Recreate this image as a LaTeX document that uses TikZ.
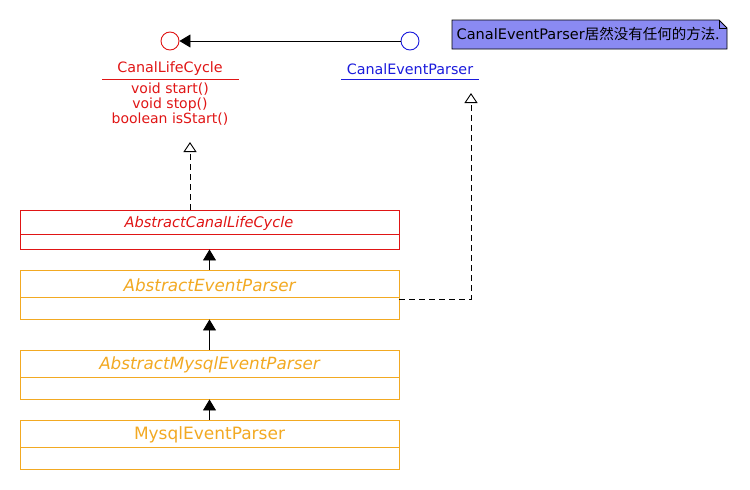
\documentclass[tikz,border=0pt]{standalone}
\usepackage{fontspec}
\setmainfont{DejaVu Sans}
\newfontfamily\cjk{Noto Sans CJK SC}
\usetikzlibrary{arrows.meta}
\definecolor{cred}{HTML}{E01515}
\definecolor{cblue}{HTML}{1A1ADC}
\definecolor{corange}{HTML}{F2A922}
\definecolor{cnote}{HTML}{8A8AF2}
\tikzset{
  clsbox/.style={draw, line width=0.9pt, minimum width=379pt, inner sep=0pt},
  lbl/.style={inner sep=0pt, anchor=center},
  inh/.style={-{Triangle[width=13pt,length=11pt]}, line width=0.9pt},
  real/.style={-{Triangle[open,width=13pt,length=10pt]}, line width=0.9pt, dash pattern=on 6pt off 4pt},
  iface/.style={circle, draw, line width=0.9pt, minimum size=18pt, inner sep=0pt}
}
\begin{document}
\begin{tikzpicture}[x=1pt,y=-1pt]
\useasboundingbox (0,0) rectangle (750,490);
% interfaces
\node[iface, draw=cred] (clc) at (170,41) {};
\node[iface, draw=cblue] (cep) at (410,41) {};
\draw[inh] (cep) -- (clc);
\node[lbl, text=cred, font=\fontsize{14.3}{15}\selectfont] (clcname) at (170,69) {CanalLifeCycle};
\draw[cred, line width=0.9pt] (102,79) -- (239,79);
\node[lbl, text=cred, font=\fontsize{14}{15}\selectfont, align=center] (clcm) at (170,104) {void start()\\ void stop()\\ boolean isStart()};
\node[lbl, text=cblue, font=\fontsize{14.3}{15}\selectfont] (cepname) at (410,69) {CanalEventParser};
\draw[cblue, line width=0.9pt] (341,79) -- (479,79);
\coordinate (clctip) at (190,142);
\coordinate (ceptip) at (471,93);
% note
\fill[cnote] (452,20) -- (719,20) -- (727,28) -- (727,49) -- (452,49) -- cycle;
\draw[line width=0.9pt] (452,20) -- (719,20) -- (727,28) -- (727,49) -- (452,49) -- cycle;
\draw[line width=0.9pt] (719,20) -- (719,28) -- (727,28);
\node[lbl, font=\fontsize{14.5}{15}\selectfont] (note) at (588,34) {CanalEventParser{\cjk 居然没有任何的方法.}};
% classes
\node[clsbox, draw=cred, minimum height=39pt] (acl) at (209.5,229.5) {};
\draw[cred, line width=0.9pt] (20,234) -- (399,234);
\node[lbl, text=cred, font=\fontsize{14.6}{15}\selectfont\itshape] (acln) at (209,223) {AbstractCanalLifeCycle};

\node[clsbox, draw=corange, minimum height=49pt] (aep) at (209.5,294.5) {};
\draw[corange, line width=0.9pt] (20,297) -- (399,297);
\node[lbl, text=corange, font=\fontsize{16.8}{18}\selectfont\itshape] (aepn) at (209.5,285) {AbstractEventParser};

\node[clsbox, draw=corange, minimum height=49pt] (amep) at (209.5,374.5) {};
\draw[corange, line width=0.9pt] (20,377) -- (399,377);
\node[lbl, text=corange, font=\fontsize{16.8}{18}\selectfont\itshape] (amepn) at (209.5,365) {AbstractMysqlEventParser};

\node[clsbox, draw=corange, minimum height=49pt] (mep) at (209.5,444.5) {};
\draw[corange, line width=0.9pt] (20,447) -- (399,447);
\node[lbl, text=corange, font=\fontsize{17}{18}\selectfont] (mepn) at (209.5,435) {MysqlEventParser};
% connectors
\draw[real] (acl.north -| clctip) -- (clctip);
\draw[real] ([yshift=-4.5pt]aep.east) -| (ceptip);
\draw[inh] (aep.north) -- (acl.south);
\draw[inh] (amep.north) -- (aep.south);
\draw[inh] (mep.north) -- (amep.south);
\end{tikzpicture}
\end{document}
